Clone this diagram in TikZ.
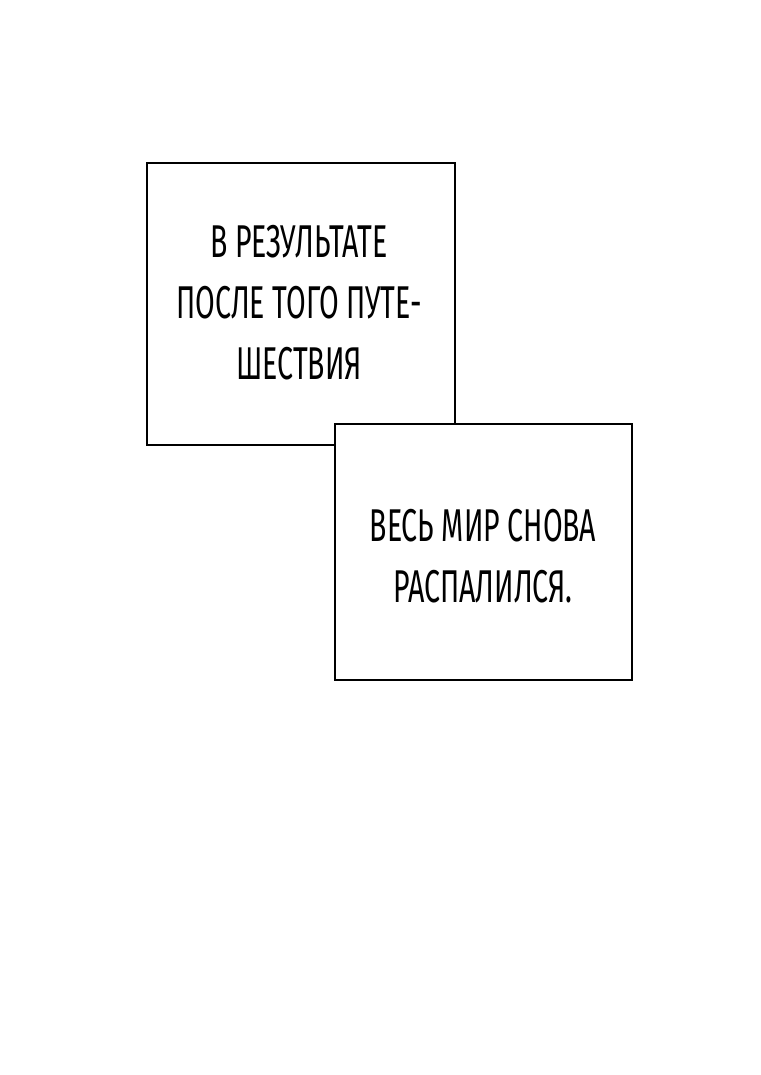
\documentclass[tikz,border=0pt]{standalone}
\usepackage{fontspec}
\setmainfont[FakeStretch=0.62]{PT Sans Narrow}
\newfontfamily\fb[FakeStretch=0.62]{Fira Sans}
\begin{document}
\begin{tikzpicture}[x=1pt,y=-1pt,
  bub/.style={draw=black,line width=2.5pt,fill=white},
  txt/.style={font=\fb\fontsize{46}{61}\selectfont,align=center}]
\useasboundingbox[fill=white] (0,0) rectangle (760,1075);
\draw[bub] (147,163) rectangle (455,445);
\draw[bub] (335,424) rectangle (632,680);
\node[txt] (t1) at (299,303) {В РЕЗУЛЬТАТЕ\\ПОСЛЕ ТОГО ПУТЕ-\\ШЕСТВИЯ};
\node[txt] (t2) at (483,556) {ВЕСЬ МИР СНОВА\\РАСПАЛИЛСЯ.};
\end{tikzpicture}
\end{document}
